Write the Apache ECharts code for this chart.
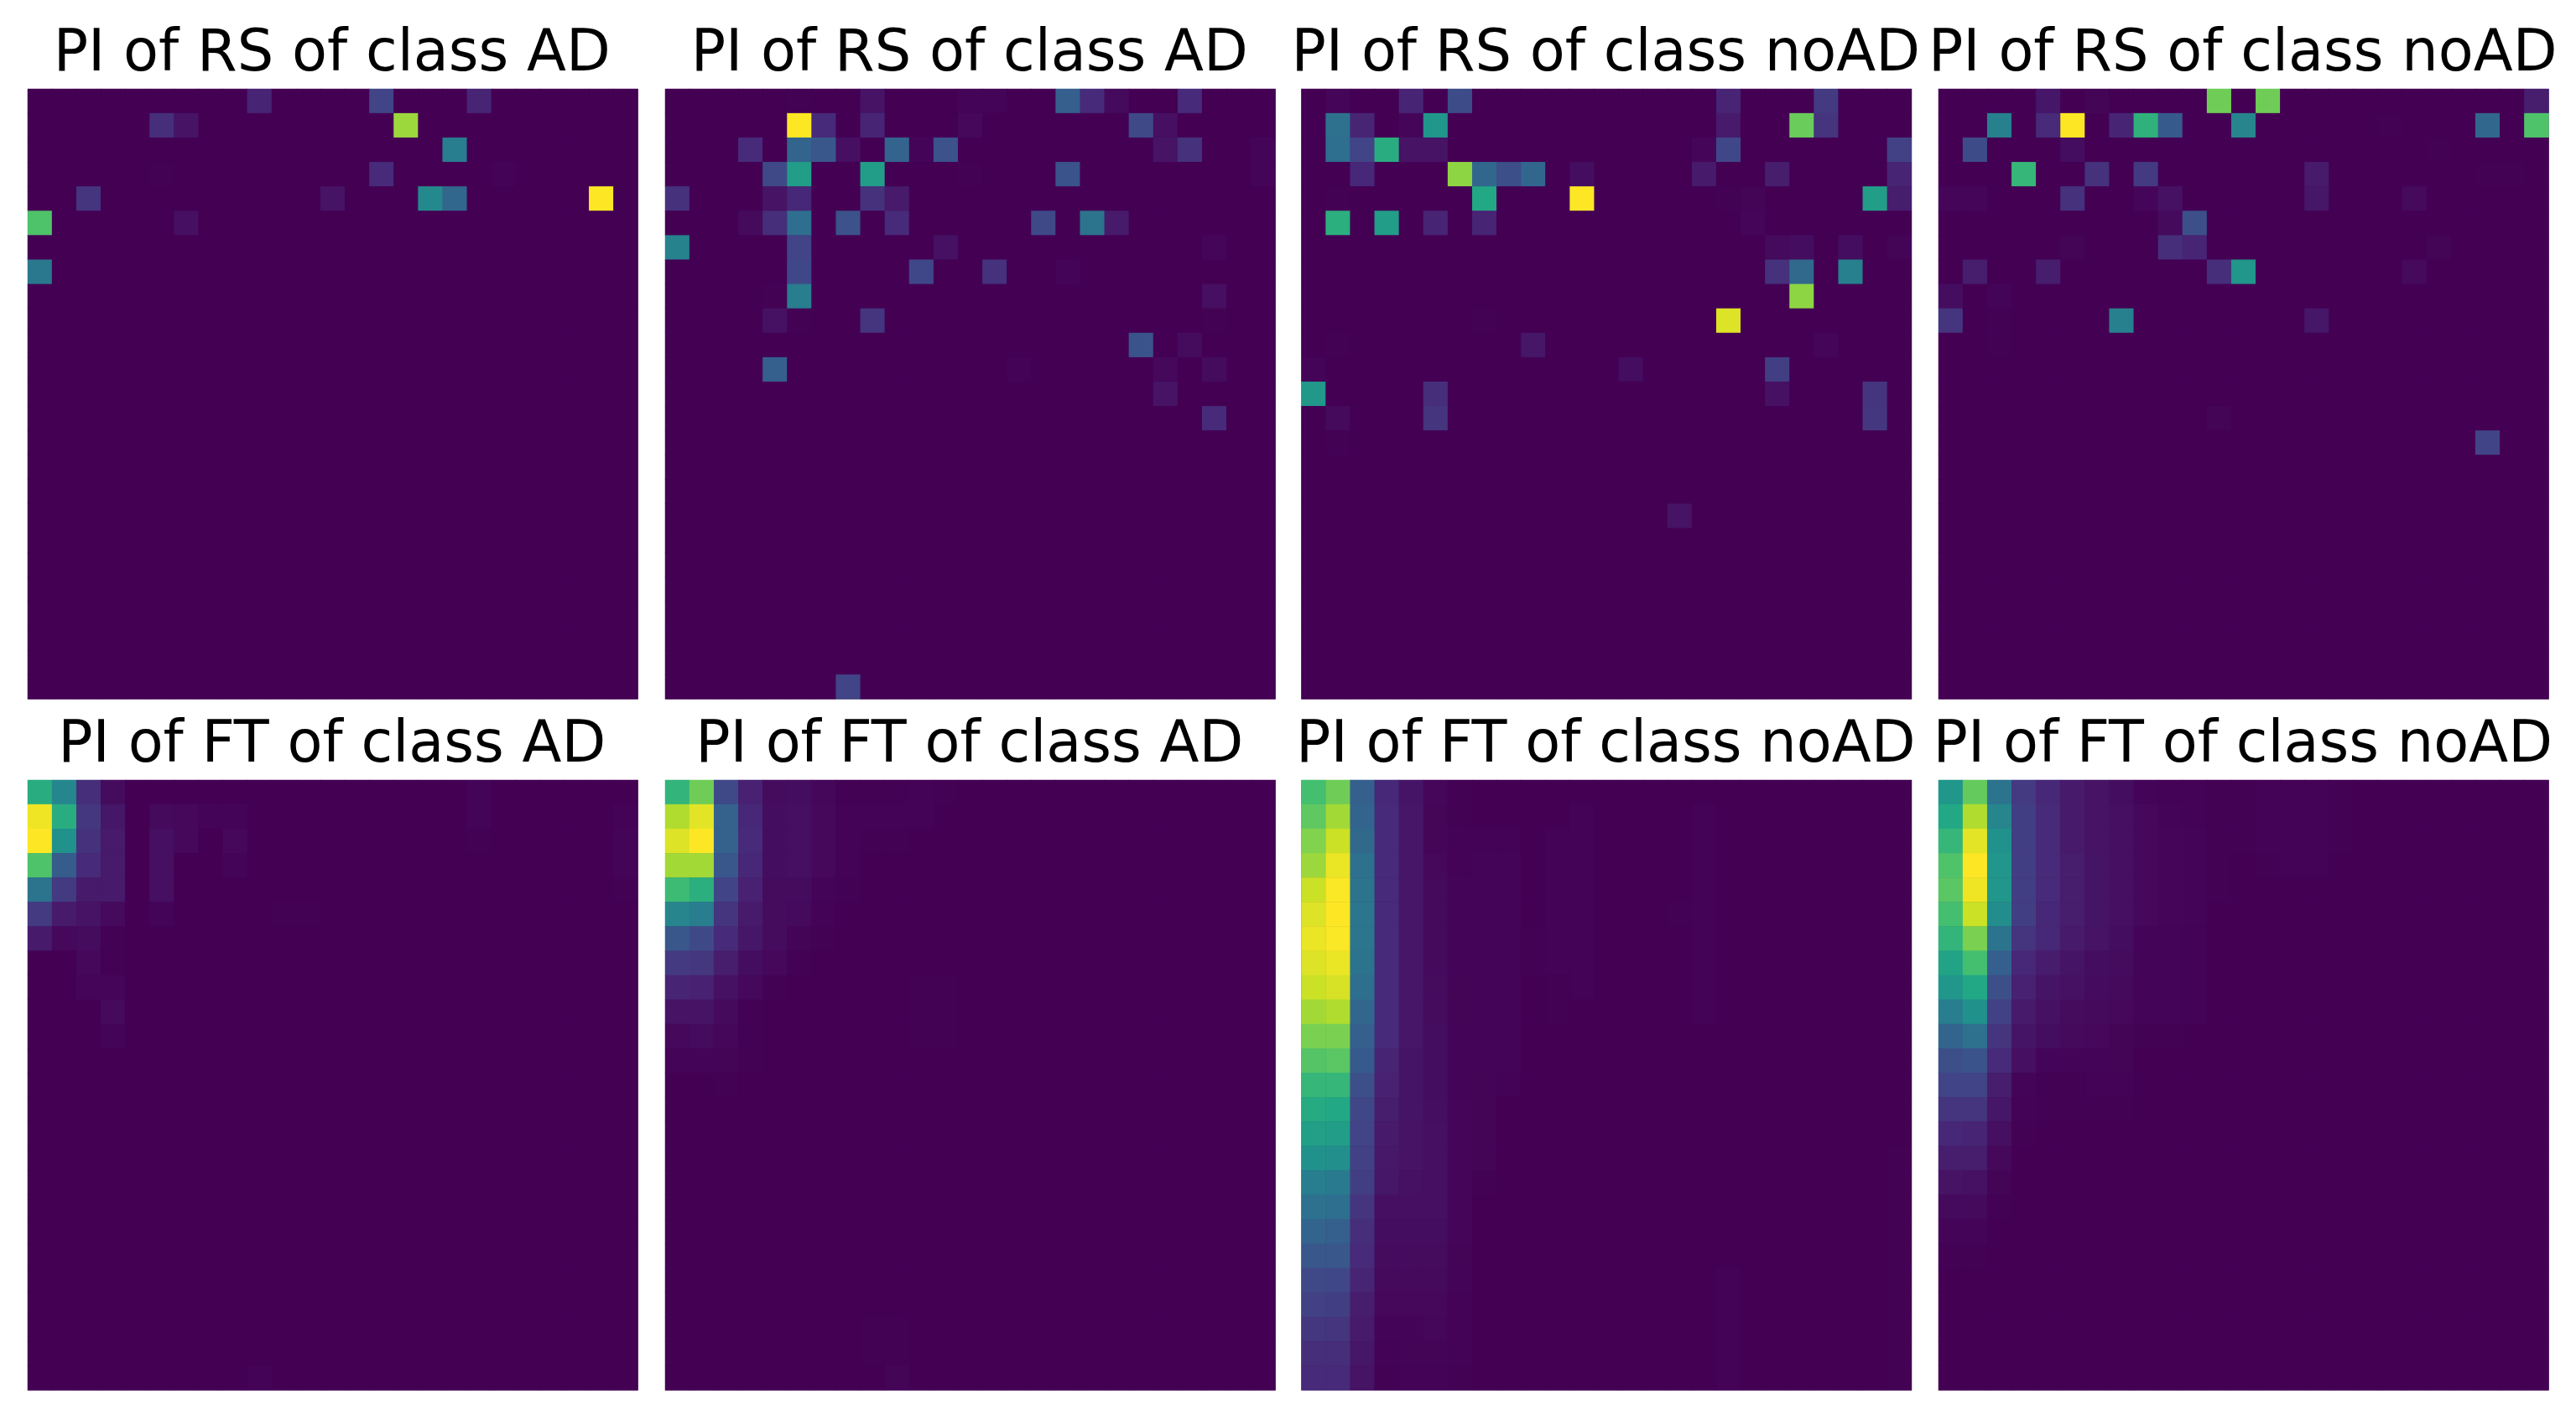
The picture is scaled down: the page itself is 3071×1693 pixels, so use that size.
<!DOCTYPE html>
<html>
<head>
<meta charset="utf-8">
<style>html,body{margin:0;padding:0;background:#fff}#c{width:3071px;height:1693px}</style>
<script src="https://cdn.jsdelivr.net/npm/echarts@6/dist/echarts.min.js"></script>
</head>
<body>
<div id="c"></div>
<script>
const titles = [
  'PI of RS of class AD','PI of RS of class AD','PI of RS of class noAD','PI of RS of class noAD',
  'PI of FT of class AD','PI of FT of class AD','PI of FT of class noAD','PI of FT of class noAD'
];
// Sparse persistence images: [row, column, value]; unlisted cells read as 0.
const rsAdA = [[0,9,.1],[0,14,.2],[0,18,.1],[1,5,.13],[1,6,.05],[1,15,.85],[2,17,.42],[3,5,.004],[3,14,.12],[3,19,.006],
  [4,2,.15],[4,12,.05],[4,16,.47],[4,17,.33],[4,23,1],[5,0,.72],[5,6,.04],[7,0,.4]];
const rsAdB = [[0,5,.004],[0,8,.05],[0,12,.008],[0,13,.008],[0,16,.3],[0,17,.12],[0,18,.025],[0,21,.12],
  [1,5,1],[1,6,.12],[1,8,.1],[1,12,.02],[1,19,.22],[1,20,.04],
  [2,3,.12],[2,5,.32],[2,6,.27],[2,7,.04],[2,9,.32],[2,10,.012],[2,11,.25],[2,20,.05],[2,21,.14],[2,24,.012],
  [3,4,.22],[3,5,.55],[3,8,.55],[3,12,.004],[3,16,.26],[3,24,.008],
  [4,0,.14],[4,4,.05],[4,5,.11],[4,8,.14],[4,9,.07],
  [5,3,.025],[5,4,.13],[5,5,.36],[5,7,.25],[5,9,.12],[5,15,.22],[5,17,.38],[5,18,.07],
  [6,0,.44],[6,5,.2],[6,11,.045],[6,22,.015],
  [7,5,.21],[7,10,.21],[7,13,.14],[7,16,.008],
  [8,4,.004],[8,5,.42],[8,22,.04],
  [9,4,.045],[9,5,.004],[9,8,.15],[9,22,.004],
  [10,19,.26],[10,21,.03],
  [11,4,.3],[11,14,.006],[11,20,.02],[11,22,.03],
  [12,20,.05],[13,22,.12],[24,7,.2]];
const rsNoAdA = [[0,1,.015],[0,4,.1],[0,6,.23],[0,17,.1],[0,21,.17],
  [1,1,.37],[1,2,.1],[1,4,.015],[1,5,.52],[1,17,.07],[1,20,.77],[1,21,.15],
  [2,1,.36],[2,2,.2],[2,3,.62],[2,4,.05],[2,5,.05],[2,16,.015],[2,17,.21],[2,24,.19],
  [3,2,.11],[3,6,.83],[3,7,.33],[3,8,.24],[3,9,.33],[3,11,.035],[3,16,.07],[3,19,.08],[3,24,.1],
  [4,1,.004],[4,7,.6],[4,11,1],[4,17,.004],[4,18,.01],[4,23,.55],[4,24,.08],
  [5,1,.63],[5,3,.55],[5,5,.1],[5,7,.1],[5,18,.015],
  [6,19,.025],[6,20,.035],[6,22,.035],[6,24,.01],
  [7,19,.14],[7,20,.34],[7,22,.43],
  [8,20,.83],[9,7,.004],[9,17,.95],
  [10,1,.004],[10,9,.06],[10,21,.015],
  [11,0,.008],[11,13,.035],[11,19,.18],
  [12,0,.53],[12,5,.13],[12,19,.045],[12,23,.15],
  [13,1,.025],[13,5,.15],[13,23,.16],[14,1,.003],[17,15,.05]];
const rsNoAdB = [[0,4,.06],[0,6,.01],[0,11,.78],[0,13,.78],[0,24,.08],
  [1,2,.43],[1,4,.12],[1,5,1],[1,7,.1],[1,8,.64],[1,9,.28],[1,12,.45],[1,18,.004],[1,22,.33],[1,24,.72],
  [2,1,.23],[2,5,.035],[2,20,.004],
  [3,3,.66],[3,6,.14],[3,8,.17],[3,15,.07],[3,22,.003],[3,23,.003],
  [4,0,.015],[4,1,.015],[4,5,.14],[4,8,.015],[4,9,.045],[4,15,.06],[4,19,.025],
  [5,9,.025],[5,10,.24],
  [6,5,.01],[6,9,.13],[6,10,.1],[6,20,.01],
  [7,1,.08],[7,4,.08],[7,11,.13],[7,12,.52],[7,19,.025],
  [8,0,.035],[8,2,.008],
  [9,0,.15],[9,2,.003],[9,7,.43],[9,15,.06],[10,2,.003],[13,11,.01],[14,22,.2]];
// Sparse additions to the FT rows below, faint far-right cells: [row, column, value].
const ftAdAFaint = [[0,18,.012],[1,18,.012],[1,24,.005],[2,18,.003],[2,24,.012],[3,24,.012],[4,24,.003],[24,9,.005]];
const ftAdBFaint = [[12,2,.003],[22,8,.002],[22,9,.002],[23,8,.002],[23,9,.002],[24,9,.01]];
const ftNoAdAFaint = [[1,11,.005],[2,11,.005],[3,11,.005],[4,11,.005],[5,11,.005],[6,11,.005],[7,11,.005],[8,11,.005],
  [1,16,.005],[2,16,.005],[3,16,.005],[4,16,.005],[5,16,.005],[6,16,.005],[7,16,.005],[8,16,.005],[9,16,.005],[5,15,.004],
  [20,17,.005],[21,17,.005],[22,17,.005],[23,17,.005],[24,17,.005],
  [15,24,.004],[16,24,.004],[17,24,.004],[18,24,.004],[19,24,.004],[20,24,.004],[21,24,.004],[22,24,.004],[23,24,.004],[24,24,.004]];
// Row-by-row values from column 0; columns past a row's end read as 0.
const ftAdA = [
  [.62,.46,.13,.03],[.98,.62,.16,.06,0,.025,.02,.008,.012],[1,.5,.14,.07,0,.04,.02,0,.02],[.72,.29,.12,.07,0,.04,0,0,.012],
  [.38,.17,.07,.07,0,.04],[.17,.07,.05,.025,0,.008,0,0,0,0,.004,.002],[.07,.02,.03,.004],[0,0,.02,.004],[0,0,.015,.015],[0,0,0,.025],[0,0,0,.012]
];
const ftAdB = [
  [.65,.78,.22,.09,.03,.035,.018,.003,.003,.003,.006,.003],[.88,.96,.31,.11,.035,.04,.02,.005,.005,.005,.006],[.95,1,.31,.12,.035,.04,.02,.005,.003,.003],
  [.86,.86,.27,.11,.035,.04,.02,.005],[.68,.63,.2,.09,.03,.03,.012,.003],[.45,.42,.15,.07,.03,.025,.006],[.27,.22,.12,.06,.03,.01,.003],
  [.17,.16,.08,.035,.02,.003],[.1,.09,.045,.02,.003,0,0,0,0,0,.004,.004],[.05,.05,.025,.004,0,0,0,0,0,0,.004,.004],[.02,.03,.016,.002,0,0,0,0,0,0,.004,.004],[.008,.008,.01,.002]
];
const ftNoAdA = [
  [.7,.78,.3,.11,.055,.018,.004],[.75,.86,.32,.12,.06,.013,.004],[.81,.92,.34,.12,.06,.013,.006,.006,.006,0,.005],
  [.85,.97,.37,.12,.06,.02,.006,.008,.008,0,.006],[.92,.995,.38,.12,.06,.025,.008,.008,.008,0,.005],[.95,1,.39,.12,.06,.025,.008,.008,.008,0,.005],
  [.97,.995,.39,.12,.06,.025,.008,.008,.008,.003,.005],[.95,.97,.38,.12,.06,.025,.008,.008,.008,.003,.005],[.92,.94,.36,.12,.06,.03,.01,.008,.008,0,.003],
  [.86,.88,.33,.12,.06,.03,.01,.008,.008,0,.003],[.8,.8,.3,.12,.06,.033,.012,.008,.008],[.73,.74,.28,.1,.055,.033,.012,.008,.008],
  [.66,.66,.24,.09,.055,.033,.012,.01,.006],[.61,.6,.21,.08,.055,.038,.015,.01],[.56,.55,.2,.07,.05,.04,.015,.01],
  [.5,.49,.19,.065,.05,.04,.015,.01],[.42,.41,.18,.06,.045,.04,.015,.004],[.37,.36,.15,.04,.04,.04,.015],[.32,.3,.13,.035,.035,.035,.015],
  [.27,.27,.12,.03,.03,.03,.01],[.22,.21,.1,.025,.025,.025,.008],[.19,.18,.08,.02,.02,.02,.006],[.16,.15,.07,.008,.008,.018,.006],
  [.13,.13,.06,.006,.01,.01,.005],[.12,.12,.05,.002,.007,.007,.003]
];
const ftNoAdB = [
  [.52,.76,.38,.17,.11,.07,.05,.035,.012,.006,.006,.004,.004,.006,.006,.006,.002],[.6,.88,.45,.18,.12,.07,.05,.04,.02,.008,.006,.004,.004,.006,.006,.006,.002],
  [.66,.96,.5,.18,.12,.07,.05,.04,.02,.015,.008,.004,.004,.006,.006,.006,.002],[.72,1,.52,.18,.12,.08,.055,.04,.02,.015,.008,.004,0,.002,.006,.006],
  [.74,.98,.52,.18,.12,.08,.055,.04,.02,.015,.008,.004],[.7,.92,.48,.18,.11,.08,.055,.04,.02,.015,.008],[.65,.8,.38,.15,.11,.07,.05,.035,.012,.012,.006],
  [.58,.7,.3,.11,.075,.055,.035,.03,.008,.008,.006],[.52,.6,.24,.09,.055,.045,.03,.025,.008,.008,.006],[.42,.5,.19,.07,.045,.03,.025,.02,.008,.008,.006],
  [.32,.37,.15,.055,.035,.025,.02,.01,.003,.003],[.24,.26,.12,.04,.012,.012,.012,.01],[.2,.2,.08,.012,.004,.004,.006,.006],[.15,.15,.06,.006,.003,.003,.003,.003],
  [.11,.1,.04,.003],[.08,.08,.02],[.05,.045,.01],[.025,.025,.004],[.012,.012],[.002,.002]
];
const viridis = ['#440154','#482475','#414487','#355f8d','#2a788e','#21918c','#22a884','#44bf70','#7ad151','#bddf26','#fde725'];
const N = 25;
const axisLabels = Array.from({length:N},(_,i)=>String(i));

function cells(rows,triples){
  const map={};
  for(let r=0;r<N;r++)for(let c=0;c<N;c++)map[r+'_'+c]=(rows&&rows[r]&&rows[r][c])||0;
  (triples||[]).forEach(([r,c,v])=>{map[r+'_'+c]=v;});
  const out=[];
  for(let r=0;r<N;r++)for(let c=0;c<N;c++)out.push([c,r,map[r+'_'+c]]);
  return out;
}
const panels=[cells(null,rsAdA),cells(null,rsAdB),cells(null,rsNoAdA),cells(null,rsNoAdB),
  cells(ftAdA,ftAdAFaint),cells(ftAdB,ftAdBFaint),cells(ftNoAdA,ftNoAdAFaint),cells(ftNoAdB)];

const lefts=[33,793,1551.5,2311];
const tops=[106,930];
const side=727.5;

const option={
  animation:false,
  backgroundColor:'#ffffff',
  title:titles.map((t,i)=>({
    text:t,
    left:lefts[i%4]+side/2-1,
    top:tops[i<4?0:1]-74,
    textAlign:'center',
    padding:0,
    textStyle:{fontFamily:'DejaVu Sans',fontSize:68.6,fontWeight:'normal',color:'#000'}
  })),
  tooltip:{show:false},
  visualMap:{show:false,min:0,max:1,calculable:false,seriesIndex:panels.map((_,i)=>i),inRange:{color:viridis}},
  grid:panels.map((_,i)=>({left:lefts[i%4],top:tops[i<4?0:1],width:side,height:side,show:true,backgroundColor:'#440154',borderWidth:0})),
  xAxis:panels.map((_,i)=>({type:'category',gridIndex:i,data:axisLabels,show:false})),
  yAxis:panels.map((_,i)=>({type:'category',gridIndex:i,data:axisLabels,inverse:true,show:false})),
  series:panels.map((d,i)=>({type:'heatmap',xAxisIndex:i,yAxisIndex:i,data:d,progressive:0,silent:true,emphasis:{disabled:true},itemStyle:{borderWidth:0}}))
};
const chart=echarts.init(document.getElementById('c'),null,{renderer:'canvas'});
chart.setOption(option);
</script>
</body>
</html>
